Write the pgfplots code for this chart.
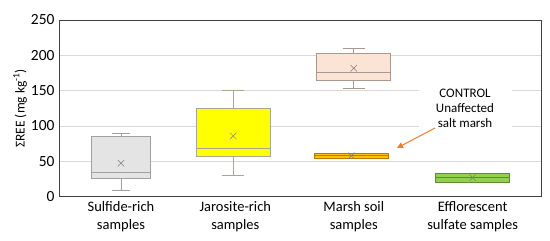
\documentclass[border=0pt]{standalone}
\usepackage{fontspec}
\setmainfont{Carlito}
\usepackage{pgfplots}
\pgfplotsset{compat=1.18}
\usepgfplotslibrary{statistics}
\usetikzlibrary{calc,arrows.meta}
\definecolor{gridc}{HTML}{D9D9D9}
\definecolor{framec}{HTML}{404040}
\definecolor{sulf}{HTML}{E4E4E4}
\definecolor{sulfd}{HTML}{A0A0A0}
\definecolor{jaro}{HTML}{FFFF00}
\definecolor{jarod}{HTML}{A8A890}
\definecolor{marsh}{HTML}{FBE3D6}
\definecolor{marshd}{HTML}{A89890}
\definecolor{ctrl}{HTML}{FFC000}
\definecolor{ctrld}{HTML}{C07800}
\definecolor{effl}{HTML}{92D050}
\definecolor{effld}{HTML}{5E8A30}
\definecolor{arrowc}{HTML}{ED7D31}
\definecolor{meanc}{HTML}{7F7F7F}
\begin{document}
\begin{tikzpicture}
\begin{axis}[
    scale only axis,
    width=482pt,height=176.7pt,
    boxplot/draw direction=y,
    xmin=0,xmax=4.82,
    ymin=0,ymax=250,
    ytick={0,50,...,250},
    xtick={0.62,1.763,2.948,4.137},
    xticklabels={Sulfide-rich\\samples,Jarosite-rich\\samples,Marsh soil\\samples,Efflorescent\\sulfate samples},
    xticklabel style={align=center,font=\fontsize{14.5}{18.5}\selectfont,yshift=-1pt},
    yticklabel style={font=\fontsize{15.5}{16}\selectfont,xshift=-1pt},
    /pgf/number format/assume math mode=true,
    major tick length=0pt,
    ymajorgrids,
    grid style={gridc,line width=1pt},
    axis line style={framec,line width=0.9pt},
    ylabel={ΣREE (mg kg\textsuperscript{-1})},
    ylabel style={font=\fontsize{13.5}{15}\selectfont,yshift=-3pt},
    clip=false,
]
\coordinate (sw) at (rel axis cs:0,0);
\coordinate (ne) at (rel axis cs:1,1);
% Sulfide-rich
\addplot[draw=sulfd,fill=sulf,line width=0.8pt,
  boxplot prepared={draw position=0.62,box extend=0.59,whisker extend=0.18,
  lower whisker=9.5,lower quartile=26,median=35,upper quartile=86,upper whisker=89.7}]
  coordinates {};
% Jarosite-rich
\addplot[draw=jarod,fill=jaro,line width=0.8pt,
  boxplot prepared={draw position=1.743,box extend=0.74,whisker extend=0.22,
  lower whisker=30.7,lower quartile=57,median=69,upper quartile=125.5,upper whisker=151}]
  coordinates {};
% Marsh soil
\addplot[draw=marshd,fill=marsh,line width=0.8pt,
  boxplot prepared={draw position=2.948,box extend=0.74,whisker extend=0.22,
  lower whisker=153.4,lower quartile=164.7,median=176,upper quartile=203,upper whisker=210}]
  coordinates {};
% Control (unaffected salt marsh)
\addplot[draw=ctrld,fill=ctrl,line width=0.8pt,
  boxplot prepared={draw position=2.923,box extend=0.74,whisker extend=0.22,
  lower whisker=54.5,lower quartile=54.5,median=58,upper quartile=61.5,upper whisker=61.5}]
  coordinates {};
% Efflorescent sulfate
\addplot[draw=effld,fill=effl,line width=0.8pt,
  boxplot prepared={draw position=4.137,box extend=0.74,whisker extend=0.22,
  lower whisker=20.5,lower quartile=20.5,median=27,upper quartile=33,upper whisker=33}]
  coordinates {};
% means
\addplot[only marks,mark=x,mark size=4.5pt,meanc,line width=0.5pt]
  coordinates {(0.62,47.3)(1.743,86)(2.948,181.7)(2.923,58)(4.137,27)};
\node[fill=white,minimum width=93pt,minimum height=45pt,align=center,
  font=\fontsize{13}{15}\selectfont,inner sep=0pt] at (axis cs:4.06,125.5)
  {CONTROL\\Unaffected\\salt marsh};
\draw[arrowc,line width=1pt,-{Triangle[length=6pt,width=6pt]}]
  (axis cs:3.76,97.2) -- (axis cs:3.38,68.9);
\end{axis}
\path[use as bounding box] ($(sw)+(-59pt,-44.3pt)$) rectangle ($(ne)+(9pt,20pt)$);
\end{tikzpicture}
\end{document}
